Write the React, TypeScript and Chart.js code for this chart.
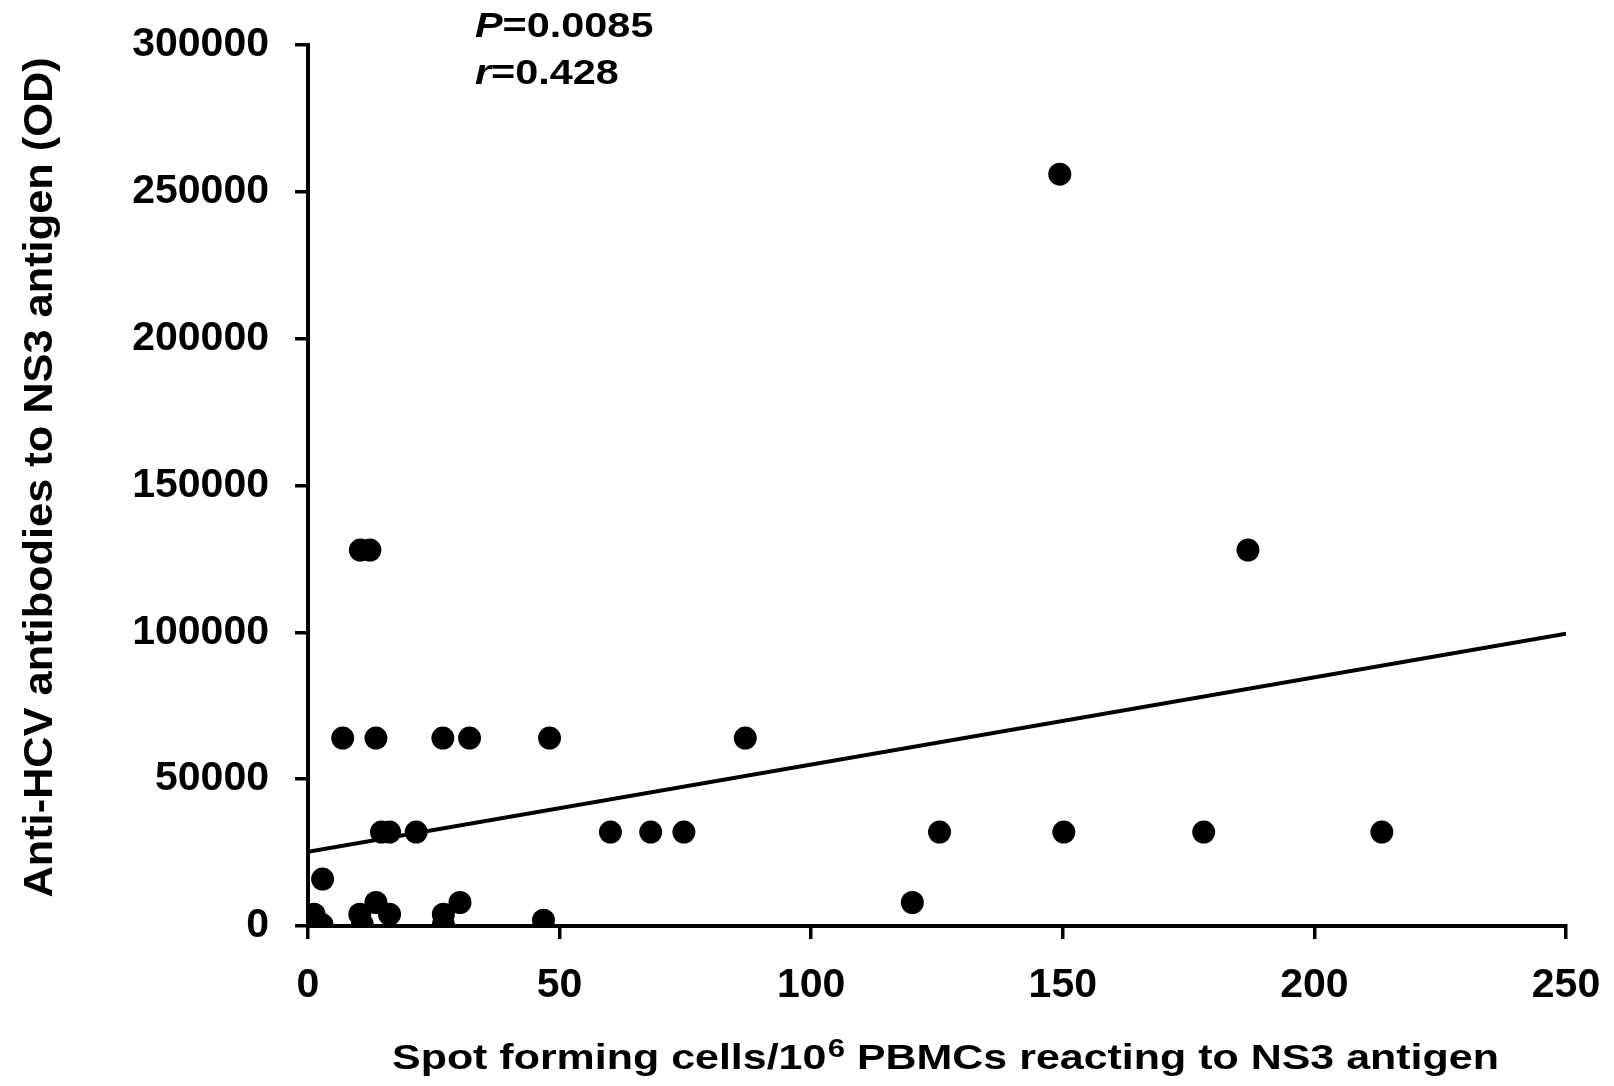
import React, { useEffect, useRef } from "react";
import { Chart, registerables } from "chart.js";

Chart.register(...registerables);

// Spot forming cells / 10^6 PBMCs reacting to NS3 antigen
const spotCells = [
  149.4, 186.8, 10.4, 12.3,
  6.9, 13.5, 26.8, 32.1, 48.0, 86.9,
  14.6, 16.2, 21.5, 60.1, 68.1, 74.7, 125.5, 150.2, 178.0, 213.4,
  2.9,
  120.1, 13.5, 30.2,
  10.3, 16.2, 26.9, 0.0, 1.2,
  46.8,
  0.0, 2.8, 10.8, 26.9,
];
// Anti-HCV antibodies to NS3 antigen (OD)
const antibodyTiters = [
  256000, 128000, 128000, 128000,
  64000, 64000, 64000, 64000, 64000, 64000,
  32000, 32000, 32000, 32000, 32000, 32000, 32000, 32000, 32000, 32000,
  16000,
  8000, 8000, 8000,
  4000, 4000, 4000, 4000, 4000,
  2000,
  1000, 500, 500, 500,
];
// Regression line end points
const trendX = [0, 250];
const trendY = [25300, 99500];

const xTickValues = [0, 50, 100, 150, 200, 250];
const yTickValues = [0, 50000, 100000, 150000, 200000, 250000, 300000];

const statP = "0.0085";
const statR = "0.428";
const yTitle = "Anti-HCV antibodies to NS3 antigen (OD)";
const xTitleParts = ["Spot forming cells/10", "6", " PBMCs reacting to NS3 antigen"];

const FONT = '"Liberation Sans", Arial, Helvetica, sans-serif';

const textPlugin = {
  id: "customTexts",
  afterDraw(chart: any) {
    const ctx = chart.ctx as CanvasRenderingContext2D;
    const area = chart.chartArea;
    ctx.save();
    ctx.fillStyle = "#000";
    ctx.textBaseline = "alphabetic";

    // Y axis title (rotated)
    ctx.save();
    const cy = (area.top + area.bottom) / 2 - 8;
    ctx.translate(area.left - 256.5, cy);
    ctx.rotate(-Math.PI / 2);
    ctx.scale(1.07, 1);
    ctx.font = `bold 40.5px ${FONT}`;
    ctx.textAlign = "center";
    ctx.fillText(yTitle, 0, 0);
    ctx.restore();

    // X axis title with superscript
    ctx.save();
    const sx = 1.245;
    ctx.translate(area.left + 84, area.bottom + 143);
    ctx.scale(sx, 1);
    ctx.textAlign = "left";
    let x = 0;
    ctx.font = `bold 34.5px ${FONT}`;
    ctx.fillText(xTitleParts[0], x, 0);
    x += ctx.measureText(xTitleParts[0]).width;
    ctx.font = `bold 25px ${FONT}`;
    ctx.fillText(xTitleParts[1], x + 1, -12);
    x += ctx.measureText(xTitleParts[1]).width + 1;
    ctx.font = `bold 34.5px ${FONT}`;
    ctx.fillText(xTitleParts[2], x, 0);
    ctx.restore();

    // Statistics annotation
    const drawStat = (label: string, value: string, baseline: number) => {
      ctx.save();
      ctx.translate(area.left + 167, baseline);
      ctx.scale(1.2, 1);
      ctx.textAlign = "left";
      ctx.font = `italic bold 34.5px ${FONT}`;
      ctx.fillText(label, 0, 0);
      const w = ctx.measureText(label).width;
      ctx.font = `bold 34.5px ${FONT}`;
      ctx.fillText("=" + value, w, 0);
      ctx.restore();
    };
    drawStat("P", statP, 37);
    drawStat("r", statR, 84);

    ctx.restore();
  },
};

export default function App() {
  const canvasRef = useRef<HTMLCanvasElement | null>(null);

  useEffect(() => {
    if (!canvasRef.current) return;
    const points = spotCells.map((v, i) => ({ x: v, y: antibodyTiters[i] }));
    const trend = trendX.map((v, i) => ({ x: v, y: trendY[i] }));

    const chart = new Chart(canvasRef.current, {
      type: "scatter",
      data: {
        datasets: [
          {
            type: "line",
            label: "Regression",
            data: trend,
            borderColor: "#000",
            borderWidth: 4,
            pointRadius: 0,
            fill: false,
            order: 2,
          } as any,
          {
            label: "Patients",
            data: points,
            backgroundColor: "#000",
            borderColor: "#000",
            borderWidth: 0,
            pointRadius: 11.5,
            pointHoverRadius: 11.5,
            order: 1,
          },
        ],
      },
      options: {
        responsive: false,
        animation: false,
        devicePixelRatio: 1,
        layout: { padding: { top: 45, right: 48, left: 0, bottom: 0 } },
        plugins: {
          legend: { display: false },
          tooltip: { enabled: false },
          title: { display: false },
        },
        scales: {
          x: {
            type: "linear",
            min: 0,
            max: 250,
            afterBuildTicks: (s: any) => {
              s.ticks = xTickValues.map((v) => ({ value: v }));
            },
            afterFit: (s: any) => {
              s.height = 160;
              s.paddingLeft = 0;
              s.paddingRight = 0;
            },
            grid: {
              display: true,
              drawOnChartArea: false,
              drawTicks: true,
              tickLength: 13,
              lineWidth: 3.5,
              color: "#000",
            },
            border: { display: true, color: "#000", width: 4 },
            ticks: {
              padding: 22,
              color: "#000",
              maxRotation: 0,
              font: { family: FONT, size: 41, weight: "bold" },
              callback: (v: any) => String(v),
            },
          },
          y: {
            type: "linear",
            min: 0,
            max: 300000,
            afterBuildTicks: (s: any) => {
              s.ticks = yTickValues.map((v) => ({ value: v }));
            },
            afterFit: (s: any) => {
              s.width = 308;
              s.paddingTop = 0;
              s.paddingBottom = 0;
            },
            grid: {
              display: true,
              drawOnChartArea: false,
              drawTicks: true,
              tickLength: 13,
              lineWidth: 3.5,
              color: "#000",
            },
            border: { display: true, color: "#000", width: 4 },
            ticks: {
              padding: 26,
              color: "#000",
              font: { family: FONT, size: 41, weight: "bold" },
              callback: (v: any) => String(v),
            },
          },
        },
      },
      plugins: [textPlugin],
    });

    return () => chart.destroy();
  }, []);

  return (
    <canvas
      ref={canvasRef}
      width={1614}
      height={1086}
      style={{ position: "absolute", left: 0, top: 0, width: 1614, height: 1086 }}
    />
  );
}
